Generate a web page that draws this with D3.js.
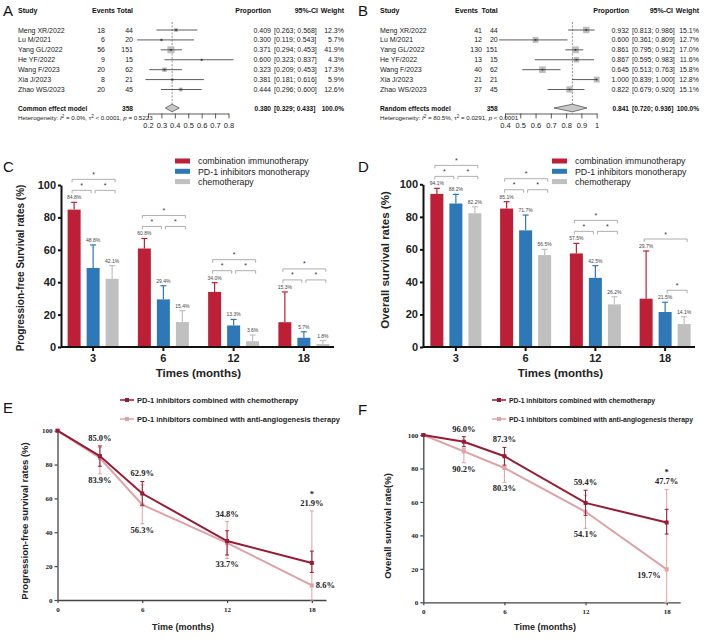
<!DOCTYPE html>
<html>
<head>
<meta charset="utf-8">
<script src="https://cdn.jsdelivr.net/npm/d3@7/dist/d3.min.js"></script>
<style>
	body { margin: 0; background: #fff; }
	svg { display: block; font-family: "Liberation Sans", Arial, sans-serif; }
</style>
</head>
<body>
<svg id="fig" width="709" height="642"></svg>
<script>
// ---- A / B : single-arm meta-analysis (ORR, DCR) ----
var studies = ["Meng XR/2022", "Lu M/2021", "Yang GL/2022", "He YF/2022", "Wang F/2023", "Xia J/2023", "Zhao WS/2023"];
var studyTotal = [44, 20, 151, 15, 62, 21, 45];

var orrEvents = [18, 6, 56, 9, 20, 8, 20];
var orrProp = [0.409, 0.300, 0.371, 0.600, 0.323, 0.381, 0.444];
var orrLower = [0.263, 0.119, 0.294, 0.323, 0.209, 0.181, 0.296];
var orrUpper = [0.568, 0.543, 0.453, 0.837, 0.453, 0.616, 0.600];
var orrWeight = [12.3, 5.7, 41.9, 4.3, 17.3, 5.9, 12.6];
var orrPooled = [0.380, 0.329, 0.433];
var orrTicks = [0.2, 0.3, 0.4, 0.5, 0.6, 0.7, 0.8];

var dcrEvents = [41, 12, 130, 13, 40, 21, 37];
var dcrProp = [0.932, 0.600, 0.861, 0.867, 0.645, 1.000, 0.822];
var dcrLower = [0.813, 0.361, 0.795, 0.595, 0.513, 0.839, 0.679];
var dcrUpper = [0.986, 0.809, 0.912, 0.983, 0.763, 1.000, 0.920];
var dcrWeight = [15.1, 12.7, 17.0, 11.6, 15.8, 12.8, 15.1];
var dcrPooled = [0.841, 0.720, 0.936];
var dcrTicks = [0.4, 0.5, 0.6, 0.7, 0.8, 0.9, 1];

// ---- C / D : survival rates by therapy ----
var timePoints = ["3", "6", "12", "18"];
var therapies = ["combination immunotherapy", "PD-1 inhibitors monotherapy", "chemotherapy"];

var pfsCombo = [84.8, 60.8, 34.0, 15.3];
var pfsMono = [48.8, 29.4, 13.3, 5.7];
var pfsChemo = [42.1, 15.4, 3.6, 1.8];
var pfsComboErr = [89.3, 67.0, 39.7, 34.0];
var pfsMonoErr = [63.0, 37.8, 17.0, 9.4];
var pfsChemoErr = [50.2, 22.4, 7.4, 4.0];
var pfsPairs = [[[0, 1], [1, 2], [0, 2]], [[0, 1], [1, 2], [0, 2]], [[0, 1], [1, 2], [0, 2]], [[0, 1], [1, 2], [0, 2]]];

var osCombo = [94.1, 85.1, 57.5, 29.7];
var osMono = [88.2, 71.7, 42.5, 21.5];
var osChemo = [82.2, 56.5, 26.2, 14.1];
var osComboErr = [97.5, 89.3, 63.7, 59.0];
var osMonoErr = [93.8, 81.1, 50.0, 27.5];
var osChemoErr = [86.2, 60.0, 30.9, 18.6];
var osPairs = [[[0, 1], [1, 2], [0, 2]], [[0, 1], [1, 2], [0, 2]], [[0, 1], [1, 2], [0, 2]], [[1, 2], [0, 2]]];

var yTicks = [0, 20, 40, 60, 80, 100];

// ---- E / F : chemo vs anti-angiogenesis combinations ----
var lineNames = ["PD-1 inhibitors combined with chemotherapy", "PD-1 inhibitors combined with anti-angiogenesis therapy"];
var months = [0, 3, 6, 12, 18];
var monthTicks = [0, 6, 12, 18];

var pfsChemoLine = [100, 85.0, 62.9, 34.8, 21.9];
var pfsChemoLo = [null, 79.0, 56.0, 26.6, 16.3];
var pfsChemoHi = [null, 91.0, 70.0, 40.9, 28.9];
var pfsAngioLine = [100, 83.9, 56.3, 33.7, 8.6];
var pfsAngioLo = [null, 74.5, 45.0, 24.6, 0];
var pfsAngioHi = [null, 90.0, 68.0, 46.3, 52.6];

var osChemoLine = [100, 96.0, 87.3, 59.4, 47.7];
var osChemoLo = [null, 93.0, 82.0, 52.0, 40.8];
var osChemoHi = [null, 99.0, 92.6, 67.0, 55.6];
var osAngioLine = [100, 90.2, 80.3, 54.1, 19.7];
var osAngioLo = [null, 83.4, 71.7, 44.2, 0];
var osAngioHi = [null, 92.0, 88.0, 64.0, 67.5];
var sigMonths = [18];

var barColors = ["#bd1f36", "#2e78b7", "#c0c0c0"];
var chemoColor = "#981b35", angioColor = "#dfa2a6";

var svg = d3.select("#fig");

function panelLabel(text, x, y) {
	svg.append("text").attr("x", x).attr("y", y)
		.attr("font-size", 15).attr("fill", "#111").text(text);
}

function drawForest(o) {
	var g = svg.append("g").attr("transform", "translate(" + o.left + ",0)");
	var x = d3.scaleLinear().domain(o.domain).range(o.range);
	var y = d3.scalePoint().domain(studies).range([30, 89.5]);
	var side = d3.scaleSqrt().domain([0, d3.max(o.weight)]).range([0, o.maxSide]);
	var f3 = d3.format(".3f"), f1 = d3.format(".1f");
	var poolY = 108, axisY = 113.5, fs = 7;

	var head = g.append("g").attr("font-size", fs).attr("font-weight", "bold").attr("fill", "#111");
	head.append("text").attr("x", o.studyX).attr("y", 13).text("Study");
	[["Events", o.eventsHead], ["Total", o.totalEnd], ["Proportion", o.propEnd], ["95%-CI", o.ciHead], ["Weight", o.weightEnd]]
		.forEach(function(h) {
			head.append("text").attr("x", h[1]).attr("y", 13).attr("text-anchor", "end").text(h[0]);
		});

	// reference line at pooled estimate
	g.append("line")
		.attr("x1", x(o.pooled[0])).attr("x2", x(o.pooled[0]))
		.attr("y1", 22).attr("y2", axisY)
		.attr("stroke", "#777").attr("stroke-width", 0.8).attr("stroke-dasharray", "2,1.5");

	var rows = g.selectAll("g.row").data(studies).enter().append("g")
		.attr("class", "row")
		.attr("transform", function(d) { return "translate(0," + y(d) + ")"; })
		.attr("font-size", fs).attr("fill", "#222");

	rows.append("text").attr("x", o.studyX).attr("y", 2.5).text(function(d) { return d; });
	rows.append("text").attr("x", o.eventsEnd).attr("y", 2.5).attr("text-anchor", "end")
		.text(function(d, i) { return o.events[i]; });
	rows.append("text").attr("x", o.totalEnd).attr("y", 2.5).attr("text-anchor", "end")
		.text(function(d, i) { return studyTotal[i]; });
	rows.append("text").attr("x", o.propEnd).attr("y", 2.5).attr("text-anchor", "end")
		.text(function(d, i) { return f3(o.prop[i]); });
	rows.append("text").attr("x", o.ciStart).attr("y", 2.5)
		.text(function(d, i) { return "[" + f3(o.lower[i]) + "; " + f3(o.upper[i]) + "]"; });
	rows.append("text").attr("x", o.weightEnd).attr("y", 2.5).attr("text-anchor", "end")
		.text(function(d, i) { return f1(o.weight[i]) + "%"; });

	rows.append("rect")
		.attr("x", function(d, i) { return x(o.prop[i]) - side(o.weight[i]) / 2; })
		.attr("y", function(d, i) { return -side(o.weight[i]) / 2; })
		.attr("width", function(d, i) { return side(o.weight[i]); })
		.attr("height", function(d, i) { return side(o.weight[i]); })
		.attr("fill", "#bdbdbd");
	rows.append("line")
		.attr("x1", function(d, i) { return x(o.lower[i]); })
		.attr("x2", function(d, i) { return x(o.upper[i]); })
		.attr("stroke", "#333").attr("stroke-width", 0.8);
	rows.append("rect")
		.attr("x", function(d, i) { return x(o.prop[i]) - 0.8; })
		.attr("y", -0.8).attr("width", 1.6).attr("height", 1.6)
		.attr("fill", "#333");

	// pooled estimate
	var pool = g.append("g").attr("font-size", fs - 0.4).attr("font-weight", "bold").attr("fill", "#111");
	pool.append("text").attr("x", o.studyX).attr("y", poolY + 2.5).text(o.model);
	pool.append("text").attr("x", o.totalEnd).attr("y", poolY + 2.5).attr("text-anchor", "end")
		.text(d3.sum(studyTotal));
	pool.append("text").attr("x", o.propEnd).attr("y", poolY + 2.5).attr("text-anchor", "end")
		.text(f3(o.pooled[0]));
	pool.append("text").attr("x", o.ciStart).attr("y", poolY + 2.5)
		.text("[" + f3(o.pooled[1]) + "; " + f3(o.pooled[2]) + "]");
	pool.append("text").attr("x", o.weightEnd).attr("y", poolY + 2.5).attr("text-anchor", "end")
		.text("100.0%");
	g.append("path")
		.attr("d", "M" + x(o.pooled[1]) + "," + poolY +
			"L" + x(o.pooled[0]) + "," + (poolY - 3.8) +
			"L" + x(o.pooled[2]) + "," + poolY +
			"L" + x(o.pooled[0]) + "," + (poolY + 3.8) + "Z")
		.attr("fill", "#c8c8c8").attr("stroke", "#444").attr("stroke-width", 0.7);

	var het = g.append("text").attr("x", o.studyX).attr("y", 120)
		.attr("font-size", 6.2).attr("fill", "#222");
	o.het.forEach(function(s) {
		var t = het.append("tspan").text(s[0]);
		if (s[1] == "i") t.attr("font-style", "italic");
		if (s[1] == "sup") t.attr("font-size", 4.5).attr("dy", -2.5);
		if (s[1] == "down") t.attr("dy", 2.5);
	});

	var axis = g.append("g").attr("transform", "translate(0," + axisY + ")")
		.call(d3.axisBottom(x).tickValues(o.ticks).tickSize(5).tickSizeOuter(0).tickFormat(d3.format("~g")));
	axis.select(".domain").attr("stroke", "#333").attr("stroke-width", 0.8);
	axis.selectAll(".tick line").attr("stroke", "#333").attr("stroke-width", 0.8);
	axis.selectAll(".tick text").attr("font-size", 7.5).attr("fill", "#222")
		.attr("font-family", "Liberation Sans, Arial, sans-serif").attr("dy", "0.9em");
}

function drawBars(o) {
	var g = svg.append("g");
	var x0 = d3.scaleBand().domain(timePoints).range(o.xRange);
	var x1 = d3.scaleBand().domain([0, 1, 2]).range([-25.5, 25.5]).paddingInner(0.316);
	var y = d3.scaleLinear().domain([0, 100]).range(o.yRange);
	var center = function(t) { return x0(t) + x0.bandwidth() / 2; };

	var flat = [];
	timePoints.forEach(function(t, i) {
		o.values.forEach(function(s, k) {
			flat.push({ t: t, k: k, v: s[i], e: o.errs[k][i] });
		});
	});

	var bars = g.selectAll("g.bar").data(flat).enter().append("g").attr("class", "bar");
	bars.append("line")
		.attr("x1", function(d) { return center(d.t) + x1(d.k) + x1.bandwidth() / 2; })
		.attr("x2", function(d) { return center(d.t) + x1(d.k) + x1.bandwidth() / 2; })
		.attr("y1", function(d) { return y(d.v); })
		.attr("y2", function(d) { return y(d.e); })
		.attr("stroke", function(d) { return barColors[d.k]; }).attr("stroke-width", 1.2);
	bars.append("line")
		.attr("x1", function(d) { return center(d.t) + x1(d.k) + x1.bandwidth() / 2 - 3; })
		.attr("x2", function(d) { return center(d.t) + x1(d.k) + x1.bandwidth() / 2 + 3; })
		.attr("y1", function(d) { return y(d.e); })
		.attr("y2", function(d) { return y(d.e); })
		.attr("stroke", function(d) { return barColors[d.k]; }).attr("stroke-width", 1.2);
	bars.append("rect")
		.attr("x", function(d) { return center(d.t) + x1(d.k); })
		.attr("y", function(d) { return y(d.v); })
		.attr("width", x1.bandwidth())
		.attr("height", function(d) { return y(0) - y(d.v); })
		.attr("fill", function(d) { return barColors[d.k]; });
	bars.append("text")
		.attr("x", function(d) { return center(d.t) + x1(d.k) + x1.bandwidth() / 2; })
		.attr("y", function(d) { return y(d.e) - 3; })
		.attr("text-anchor", "middle").attr("font-size", 5).attr("fill", "#444")
		.text(function(d) { return d.v.toFixed(1) + "%"; });

	// significance brackets
	timePoints.forEach(function(t, i) {
		var pairs = o.pairs[i];
		var barX = function(k) { return center(t) + x1(k) + x1.bandwidth() / 2; };
		var topOf = function(a, b) {
			var m = 0;
			for (var k = a; k <= b; k++) m = Math.max(m, o.errs[k][i]);
			return y(m) - 12;
		};
		var lowLevel = null;
		pairs.forEach(function(p) {
			if (p[1] - p[0] == 1) {
				var l = topOf(p[0], p[1]);
				lowLevel = lowLevel == null ? l : Math.min(lowLevel, l);
			}
		});
		pairs.forEach(function(p) {
			var level = p[1] - p[0] == 1 ? lowLevel : Math.min(topOf(p[0], p[1]), lowLevel == null ? 999 : lowLevel - 11);
			var xa = barX(p[0]) + (p[0] == 0 ? -2 : 2);
			var xb = barX(p[1]) + (p[1] == 2 ? 3 : -2);
			g.append("path")
				.attr("d", "M" + xa + "," + (level + 3) + "V" + level + "H" + xb + "V" + (level + 3))
				.attr("fill", "none").attr("stroke", "#9a9a9a").attr("stroke-width", 0.8);
			g.append("text").attr("x", (xa + xb) / 2).attr("y", level - 2.5)
				.attr("text-anchor", "middle").attr("font-size", 7).attr("fill", "#333").text("*");
		});
	});

	var ya = g.append("g").attr("transform", "translate(" + o.axisX + ",0)")
		.call(d3.axisLeft(y).tickValues(yTicks).tickSize(3).tickPadding(2).tickSizeOuter(0));
	ya.select(".domain").attr("stroke", "#111").attr("stroke-width", 2);
	ya.selectAll(".tick line").attr("stroke", "#111").attr("stroke-width", 2);
	ya.selectAll(".tick text").attr("font-size", 11).attr("font-weight", "bold").attr("fill", "#222")
		.attr("font-family", "Liberation Sans, Arial, sans-serif");

	var xa = g.append("g").attr("transform", "translate(0," + y(0) + ")")
		.call(d3.axisBottom(x0).tickSize(4).tickPadding(3).tickSizeOuter(0));
	xa.select(".domain").attr("d", "M" + o.axisX + ",0H" + (o.xRange[1] - 5))
		.attr("stroke", "#111").attr("stroke-width", 2);
	xa.selectAll(".tick line").attr("stroke", "#111").attr("stroke-width", 2);
	xa.selectAll(".tick text").attr("font-size", 11).attr("font-weight", "bold").attr("fill", "#222")
		.attr("font-family", "Liberation Sans, Arial, sans-serif");

	g.append("text").attr("x", d3.mean(o.xRange)).attr("y", 377)
		.attr("text-anchor", "middle").attr("font-size", 11.5).attr("font-weight", "bold").attr("fill", "#222")
		.text("Times (months)");
	g.append("text")
		.attr("transform", "translate(" + o.titleX + "," + o.titleY + ") rotate(-90)")
		.attr("text-anchor", "middle").attr("font-size", o.titleSize).attr("font-weight", "bold").attr("fill", "#222")
		.text(o.title);

	var leg = g.selectAll("g.leg").data(therapies).enter().append("g")
		.attr("transform", function(d, i) { return "translate(" + o.legX + "," + (161 + i * 10.3) + ")"; });
	leg.append("rect").attr("x", 0).attr("y", -2.5).attr("width", 15).attr("height", 5)
		.attr("fill", function(d, i) { return barColors[i]; });
	leg.append("text").attr("x", 23).attr("y", 3.2).attr("font-size", 8.8).attr("fill", "#222")
		.text(function(d) { return d; });
}

function drawSurvival(o) {
	var g = svg.append("g");
	var x = d3.scaleLinear().domain([0, 19]).range(o.xRange);
	var y = d3.scaleLinear().domain([0, 100]).range(o.yRange);
	var line = d3.line()
		.x(function(d, i) { return x(months[i]); })
		.y(function(d) { return y(d); });
	var series = [
		{ vals: o.angio, lo: o.angioLo, hi: o.angioHi, color: angioColor },
		{ vals: o.chemo, lo: o.chemoLo, hi: o.chemoHi, color: chemoColor }
	];

	var xa = g.append("g").attr("transform", "translate(0," + y(0) + ")")
		.call(d3.axisBottom(x).tickValues(monthTicks).tickSize(3).tickPadding(4).tickSizeOuter(0));
	var ya = g.append("g").attr("transform", "translate(" + x(0) + ",0)")
		.call(d3.axisLeft(y).tickValues(yTicks).tickSize(3).tickPadding(2).tickSizeOuter(0));
	[xa, ya].forEach(function(a) {
		a.select(".domain").attr("stroke", "#444").attr("stroke-width", 1.3);
		a.selectAll(".tick line").attr("stroke", "#444").attr("stroke-width", 1.2);
		a.selectAll(".tick text").attr("font-size", 7).attr("font-weight", "bold").attr("fill", "#222")
			.attr("font-family", "Liberation Serif, Times New Roman, serif");
	});

	series.forEach(function(s) {
		g.append("path").attr("d", line(s.vals))
			.attr("fill", "none").attr("stroke", s.color).attr("stroke-width", 2);
		months.forEach(function(m, i) {
			if (s.lo[i] == null) return;
			var px = x(m);
			g.append("path")
				.attr("d", "M" + px + "," + y(s.lo[i]) + "V" + y(s.hi[i]) +
					"M" + (px - 2) + "," + y(s.lo[i]) + "H" + (px + 2) +
					"M" + (px - 2) + "," + y(s.hi[i]) + "H" + (px + 2))
				.attr("fill", "none").attr("stroke", s.color).attr("stroke-width", 1);
		});
		g.selectAll(null).data(s.vals).enter().append("rect")
			.attr("x", function(d, i) { return x(months[i]) - 2; })
			.attr("y", function(d) { return y(d) - 2; })
			.attr("width", 4).attr("height", 4)
			.attr("fill", s.color);
	});

	var lab = g.append("g").attr("font-family", "Liberation Serif, Times New Roman, serif")
		.attr("font-size", 8.5).attr("font-weight", "bold").attr("fill", "#222");
	months.forEach(function(m, i) {
		if (i == 0) return;
		var px = x(m);
		var topY = y(Math.max(o.chemoHi[i], o.angioHi[i])) - 5;
		var lowV = Math.min(o.chemoLo[i], o.angioLo[i]);
		lab.append("text").attr("x", px).attr("y", topY).attr("text-anchor", "middle")
			.text(o.chemo[i].toFixed(1) + "%");
		if (lowV > 0) {
			lab.append("text").attr("x", px).attr("y", y(lowV) + 9).attr("text-anchor", "middle")
				.text(o.angio[i].toFixed(1) + "%");
		} else if (o.lastSide == "right") {
			lab.append("text").attr("x", px + 4).attr("y", y(o.angio[i]) + 3)
				.text(o.angio[i].toFixed(1) + "%");
		} else {
			lab.append("text").attr("x", px - 6).attr("y", y(o.angio[i]) + 9).attr("text-anchor", "end")
				.text(o.angio[i].toFixed(1) + "%");
		}
		if (sigMonths.indexOf(m) >= 0) {
			lab.append("text").attr("x", px).attr("y", topY - 9).attr("text-anchor", "middle").text("*");
		}
	});

	g.append("text").attr("x", o.xTitleX).attr("y", 630)
		.attr("text-anchor", "middle").attr("font-size", 9).attr("font-weight", "bold").attr("fill", "#222")
		.text("Time (months)");
	g.append("text")
		.attr("transform", "translate(" + o.titleX + "," + o.titleY + ") rotate(-90)")
		.attr("text-anchor", "middle").attr("font-size", 9.5).attr("font-weight", "bold").attr("fill", "#222")
		.text(o.title);

	var leg = g.selectAll("g.leg").data(lineNames).enter().append("g")
		.attr("transform", function(d, i) { return "translate(" + o.legX + "," + (400 + i * 19) + ")"; });
	leg.append("line").attr("x1", 0).attr("x2", 14)
		.attr("stroke", function(d, i) { return i == 0 ? chemoColor : angioColor; }).attr("stroke-width", 1.5);
	leg.append("rect").attr("x", 5).attr("y", -2).attr("width", 4).attr("height", 4)
		.attr("fill", function(d, i) { return i == 0 ? chemoColor : angioColor; });
	leg.append("text").attr("x", 17).attr("y", 2.7)
		.attr("font-size", o.legSize).attr("font-weight", "bold").attr("fill", "#222")
		.text(function(d) { return d; });
}

panelLabel("A", 3, 16);
panelLabel("B", 358, 16);
panelLabel("C", 3, 172);
panelLabel("D", 358, 172);
panelLabel("E", 3, 413);
panelLabel("F", 358, 415);

drawForest({
	left: 0, studyX: 18, eventsHead: 115, eventsEnd: 105, totalEnd: 133,
	propEnd: 271, ciHead: 318, ciStart: 274, weightEnd: 344,
	domain: [0.2, 0.8], range: [148, 228.5], ticks: orrTicks, maxSide: 7,
	events: orrEvents, prop: orrProp, lower: orrLower, upper: orrUpper, weight: orrWeight,
	pooled: orrPooled, model: "Common effect model",
	het: [["Heterogeneity: "], ["I", "i"], ["2", "sup"], [" = 0.0%, \u03c4", "down"], ["2", "sup"], [" < 0.0001, ", "down"], ["p", "i"], [" = 0.5223"]]
});
drawForest({
	left: 355, studyX: 25, eventsHead: 123, eventsEnd: 127, totalEnd: 142.7,
	propEnd: 274, ciHead: 318, ciStart: 277, weightEnd: 344,
	domain: [0.4, 1], range: [150, 241.7], ticks: dcrTicks, maxSide: 6.8,
	events: dcrEvents, prop: dcrProp, lower: dcrLower, upper: dcrUpper, weight: dcrWeight,
	pooled: dcrPooled, model: "Random effects model",
	het: [["Heterogeneity: "], ["I", "i"], ["2", "sup"], [" = 80.5%, \u03c4", "down"], ["2", "sup"], [" = 0.0291, ", "down"], ["p", "i"], [" < 0.0001"]]
});

drawBars({
	values: [pfsCombo, pfsMono, pfsChemo], errs: [pfsComboErr, pfsMonoErr, pfsChemoErr],
	pairs: pfsPairs, xRange: [58, 339], yRange: [347, 185], axisX: 61,
	titleX: 24, titleY: 268, titleSize: 10, legX: 175,
	title: "Progression-free Survival rates (%)"
});
drawBars({
	values: [osCombo, osMono, osChemo], errs: [osComboErr, osMonoErr, osChemoErr],
	pairs: osPairs, xRange: [421, 700], yRange: [347, 184.3], axisX: 423,
	titleX: 389, titleY: 260, titleSize: 11.5, legX: 552,
	title: "Overall survival rates (%)"
});

drawSurvival({
	chemo: pfsChemoLine, chemoLo: pfsChemoLo, chemoHi: pfsChemoHi,
	angio: pfsAngioLine, angioLo: pfsAngioLo, angioHi: pfsAngioHi,
	xRange: [57.5, 326], yRange: [600, 430.7], lastSide: "right", legSize: 7.5,
	title: "Progression-free survival rates (%)", titleX: 28, titleY: 521, xTitleX: 183, legX: 120
});
drawSurvival({
	chemo: osChemoLine, chemoLo: osChemoLo, chemoHi: osChemoHi,
	angio: osAngioLine, angioLo: osAngioLo, angioHi: osAngioHi,
	xRange: [423.3, 680.2], yRange: [602.3, 435], lastSide: "left", legSize: 6.8,
	title: "Overall survival rate(%)", titleX: 391, titleY: 526, xTitleX: 545, legX: 492
});
</script>
</body>
</html>
